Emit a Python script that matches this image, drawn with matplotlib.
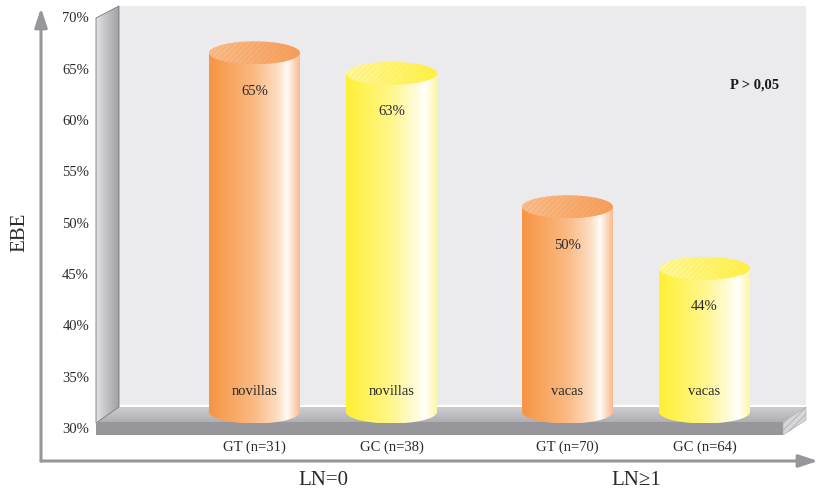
import numpy as np
import matplotlib
matplotlib.use("Agg")
import matplotlib.pyplot as plt
from matplotlib.patches import Polygon, Ellipse, PathPatch
from matplotlib.path import Path
from matplotlib.colors import LinearSegmentedColormap

plt.rcParams['font.family'] = ['Liberation Serif', 'DejaVu Serif']
plt.rcParams['hatch.linewidth'] = 0.6

# datos
categorias = ["GT (n=31)", "GC (n=38)", "GT (n=70)", "GC (n=64)"]
valores = [65, 63, 50, 44]
animales = ["novillas", "novillas", "vacas", "vacas"]
grupos = ["LN=0", "LN\u22651"]
grupo_de = [0, 0, 1, 1]
yticks = [30, 35, 40, 45, 50, 55, 60, 65, 70]

# estilo
W, H = 820, 495
sep_grupos = 2.285
ancho = 0.664
desfase = 1.7      # profundidad 3D de las barras
elipse = 1.12      # semieje vertical de las tapas

rgb = lambda *c: tuple(v / 255 for v in c)
naranja = LinearSegmentedColormap.from_list("naranja", [
    (0.0, rgb(246, 148, 66)), (0.5, rgb(250, 186, 132)), (0.76, rgb(253, 222, 196)),
    (0.86, rgb(255, 252, 248)), (1.0, rgb(249, 186, 142))])
amarillo = LinearSegmentedColormap.from_list("amarillo", [
    (0.0, rgb(255, 240, 52)), (0.5, rgb(255, 246, 140)), (0.78, rgb(255, 252, 222)),
    (0.87, rgb(255, 255, 252)), (1.0, rgb(255, 246, 165))])
tapa_nar = LinearSegmentedColormap.from_list("tn", [rgb(250, 190, 140), rgb(246, 158, 90)])
tapa_ama = LinearSegmentedColormap.from_list("ta", [rgb(255, 248, 160), rgb(255, 240, 70)])
cm_cuerpo = [naranja, amarillo]
cm_tapa = [tapa_nar, tapa_ama]
rayado = [rgb(240, 150, 80), rgb(250, 232, 60)]

fig = plt.figure(figsize=(W / 100, H / 100), dpi=100)
ax = fig.add_axes([0, 0, 1, 1])
ax.axis('off')

def px(x, y):
    return (x / W, 1 - y / H)

def poly(puntos, **kw):
    p = Polygon([px(*q) for q in puntos], closed=True, transform=ax.transAxes, **kw)
    ax.add_patch(p)
    return p

grad = np.linspace(0, 1, 256).reshape(1, -1)

# pared del fondo
poly([(119, 6), (806, 6), (806, 405), (119, 405)], fc=rgb(235, 235, 238), ec='none', zorder=1)
# pared lateral izquierda
lateral = poly([(96, 18), (119, 6), (119, 407), (96, 423)], fc='none', ec=rgb(120, 120, 125),
               lw=0.6, zorder=2)
gris_lat = LinearSegmentedColormap.from_list("gl", [rgb(225, 225, 228), rgb(160, 160, 165)])
im = ax.imshow(grad, cmap=gris_lat, extent=[96 / W, 119 / W, 1 - 423 / H, 1 - 6 / H],
               aspect='auto', transform=ax.transAxes, zorder=1.5)
im.set_clip_path(lateral)
# suelo
suelo = poly([(96, 423), (119, 407), (806, 407), (783, 422)], fc='none', ec='none', zorder=2)
gris_suelo = LinearSegmentedColormap.from_list("gs", [rgb(172, 172, 177), rgb(205, 205, 210)])
im = ax.imshow(grad.T[::-1], cmap=gris_suelo, extent=[96 / W, 806 / W, 1 - 423 / H, 1 - 407 / H],
               aspect='auto', transform=ax.transAxes, zorder=1.5)
im.set_clip_path(suelo)
poly([(96, 422), (783, 422), (783, 435), (96, 435)], fc=rgb(150, 150, 155), ec='none', zorder=2)
poly([(783, 422), (806, 407), (806, 420), (783, 435)], fc=rgb(215, 215, 218), ec=rgb(175, 175, 180),
     lw=0.5, hatch='/////', zorder=2)

# ejes con flechas
gris_eje = rgb(150, 150, 155)
for fin in [(41, 8), (818, 461)]:
    ax.annotate("", xy=px(*fin), xytext=px(41, 461), xycoords='axes fraction',
                arrowprops=dict(arrowstyle='-|>,head_width=0.38,head_length=1.15',
                                color=gris_eje, lw=2.2, mutation_scale=10,
                                shrinkA=0, shrinkB=0), zorder=3)

# cilindros
x_pos = [grupo_de[i] * sep_grupos + (i - 2 * grupo_de[i]) for i in range(len(valores))]
w = ancho / 2
base = yticks[0] + desfase
for i, (x, v) in enumerate(zip(x_pos, valores)):
    k = i % 2
    top = v + desfase
    th = np.linspace(np.pi, 2 * np.pi, 60)
    verts = [(x - w, top), (x - w, base)] + list(zip(x + w * np.cos(th), base + elipse * np.sin(th))) \
        + [(x + w, top), (x - w, top)]
    cuerpo = PathPatch(Path(verts), fc='none', ec='none', zorder=4)
    ax.add_patch(cuerpo)
    im = ax.imshow(grad, cmap=cm_cuerpo[k], extent=[x - w, x + w, base - elipse, top],
                   aspect='auto', zorder=4)
    im.set_clip_path(cuerpo)
    tapa = Ellipse((x, top), 2 * w, 2 * elipse, fc='none', ec='none', zorder=5)
    ax.add_patch(tapa)
    im = ax.imshow(grad, cmap=cm_tapa[k], extent=[x - w, x + w, top - elipse, top + elipse],
                   aspect='auto', zorder=5)
    im.set_clip_path(tapa)
    ax.add_patch(Ellipse((x, top), 2 * w, 2 * elipse, fc='none', ec=rayado[k], lw=0,
                         hatch='//////', alpha=0.4, zorder=5.5))

    ax.text(x, v - 2.05, f"{v}%", ha='center', va='center', fontsize=10.5, color='#2a2a2a', zorder=6)
    ax.text(x, yticks[0] + 3.65, animales[i], ha='center', va='center', fontsize=10.5,
            color='#2a2a2a', zorder=6)
    ax.text(x, 28.3, categorias[i], ha='center', va='center', fontsize=10.5, color='#2a2a2a')

for g, nombre in enumerate(grupos):
    xs = [x for x, gg in zip(x_pos, grupo_de) if gg == g]
    ax.text(np.mean(xs), 25.07, nombre, ha='center', va='center', fontsize=15, color='#2a2a2a')

for t in yticks:
    ax.text(-1.208, t, f"{t}%", ha='right', va='center', fontsize=10.5, color='#2a2a2a')

ax.text(-1.712, 49.2, "EBE", rotation=90, ha='center', va='center', fontsize=15, color='#2a2a2a')
ax.text(3.653, 63.57, "P > 0,05", ha='center', va='center', fontsize=10.5, fontweight='bold',
        color='#1a1a1a')

ax.set_xlim(-1.858, 4.128)
ax.set_ylim(23.61, 71.85)

fig.savefig("out.png", dpi=100)
